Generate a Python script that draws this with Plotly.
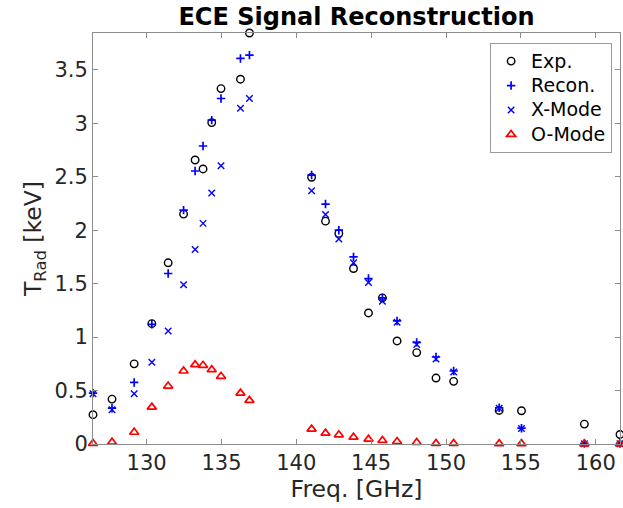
import plotly.graph_objects as go

freq = [126.42, 127.69, 129.17, 130.35, 131.44, 132.47, 133.24, 133.77, 134.35, 134.97,
        136.27, 136.87, 141.02, 141.95, 142.84, 143.82, 144.82, 145.75, 146.73, 148.04,
        149.33, 150.51, 153.55, 155.04, 159.24, 161.62]
exp_vals = [0.274, 0.42, 0.75, 1.126, 1.695, 2.151, 2.657, 2.573, 3.007, 3.325,
            3.413, 3.845, 2.495, 2.085, 1.97, 1.642, 1.226, 1.367, 0.964, 0.855,
            0.617, 0.586, 0.314, 0.311, 0.186, 0.089]
recon_vals = [0.476, 0.335, 0.576, 1.12, 1.595, 2.188, 2.554, 2.788, 3.03, 3.232,
              3.607, 3.638, 2.516, 2.245, 2.0, 1.751, 1.548, 1.367, 1.151, 0.951,
              0.814, 0.683, 0.339, 0.148, 0.005, 0.005]
xmode_vals = [0.47, 0.32, 0.47, 0.764, 1.057, 1.49, 1.82, 2.064, 2.348, 2.604,
              3.141, 3.232, 2.37, 2.148, 1.917, 1.695, 1.51, 1.336, 1.14, 0.93,
              0.795, 0.674, 0.335, 0.145, 0.003, 0.003]
omode_vals = [0.005, 0.017, 0.11, 0.345, 0.542, 0.683, 0.742, 0.736, 0.695, 0.633,
              0.476, 0.408, 0.139, 0.101, 0.086, 0.064, 0.045, 0.033, 0.023, 0.014,
              0.005, 0.005, 0.003, 0.003, 0.002, 0.002]
series_names = ["Exp.", "Recon.", "X-Mode", "O-Mode"]
x_ticks = [130, 135, 140, 145, 150, 155, 160]
y_ticks = [0, 0.5, 1, 1.5, 2, 2.5, 3, 3.5]
y_tick_text = ["0", "0.5", "1", "1.5", "2", "2.5", "3", "3.5"]

FONT = "DejaVu Sans"
AX = "#8c8c8c"


def leg(name):
    return '<span style="font-size:19px">' + name + '</span>'


fig = go.Figure()
fig.add_trace(go.Scatter(x=freq, y=exp_vals, mode="markers", name=leg(series_names[0]),
                         marker=dict(symbol="circle-open", size=7.5, color="black",
                                     line=dict(width=1.4, color="black")),
                         cliponaxis=False))
fig.add_trace(go.Scatter(x=freq, y=recon_vals, mode="markers", name=leg(series_names[1]),
                         marker=dict(symbol="cross-thin-open", size=6, color="blue",
                                     line=dict(width=1.7, color="blue")),
                         cliponaxis=False))
fig.add_trace(go.Scatter(x=freq, y=xmode_vals, mode="markers", name=leg(series_names[2]),
                         marker=dict(symbol="x-thin-open", size=6.5, color="blue",
                                     line=dict(width=1.4, color="blue")),
                         cliponaxis=False))
fig.add_trace(go.Scatter(x=freq, y=omode_vals, mode="markers", name=leg(series_names[3]),
                         marker=dict(symbol="triangle-up-open", size=8, color="red",
                                     line=dict(width=1.7, color="red")),
                         cliponaxis=False))

axis_common = dict(showgrid=False, zeroline=False, showline=True, linecolor=AX,
                   linewidth=1, mirror="allticks", ticks="inside", ticklen=5,
                   tickcolor=AX, tickwidth=1, automargin=False,
                   tickfont=dict(family=FONT, size=21, color="#262626"))

fig.update_xaxes(range=[min(freq), max(freq)], tickvals=x_ticks,
                 title=dict(text="Freq. [GHz]", font=dict(family=FONT, size=23.5, color="#262626"),
                            standoff=4),
                 **axis_common)
fig.update_yaxes(range=[0, max(exp_vals)], tickvals=y_ticks, ticktext=y_tick_text,
                 title=dict(text="T<sub>Rad</sub> [keV]", font=dict(family=FONT, size=23.5, color="#262626"),
                            standoff=6),
                 **axis_common)

fig.update_layout(
    width=623, height=508,
    margin=dict(l=93, r=3, t=33, b=64, autoexpand=False),
    plot_bgcolor="white", paper_bgcolor="white",
    title=dict(text="<b>ECE Signal Reconstruction</b>", x=0.5, xref="paper",
               y=1 - 17 / 508, yref="container", yanchor="middle", xanchor="center",
               font=dict(family=FONT, size=24, color="black")),
    legend=dict(x=0.985, y=0.976, xanchor="right", yanchor="top",
                bgcolor="white", bordercolor="#9a9a9a", borderwidth=1,
                font=dict(family=FONT, size=16.5, color="black"),
                itemwidth=30, tracegroupgap=0),
    showlegend=True,
)

fig.write_html("out.html", config={"displayModeBar": False},
               post_script="document.body.style.margin='0';document.body.style.overflow='hidden';")
